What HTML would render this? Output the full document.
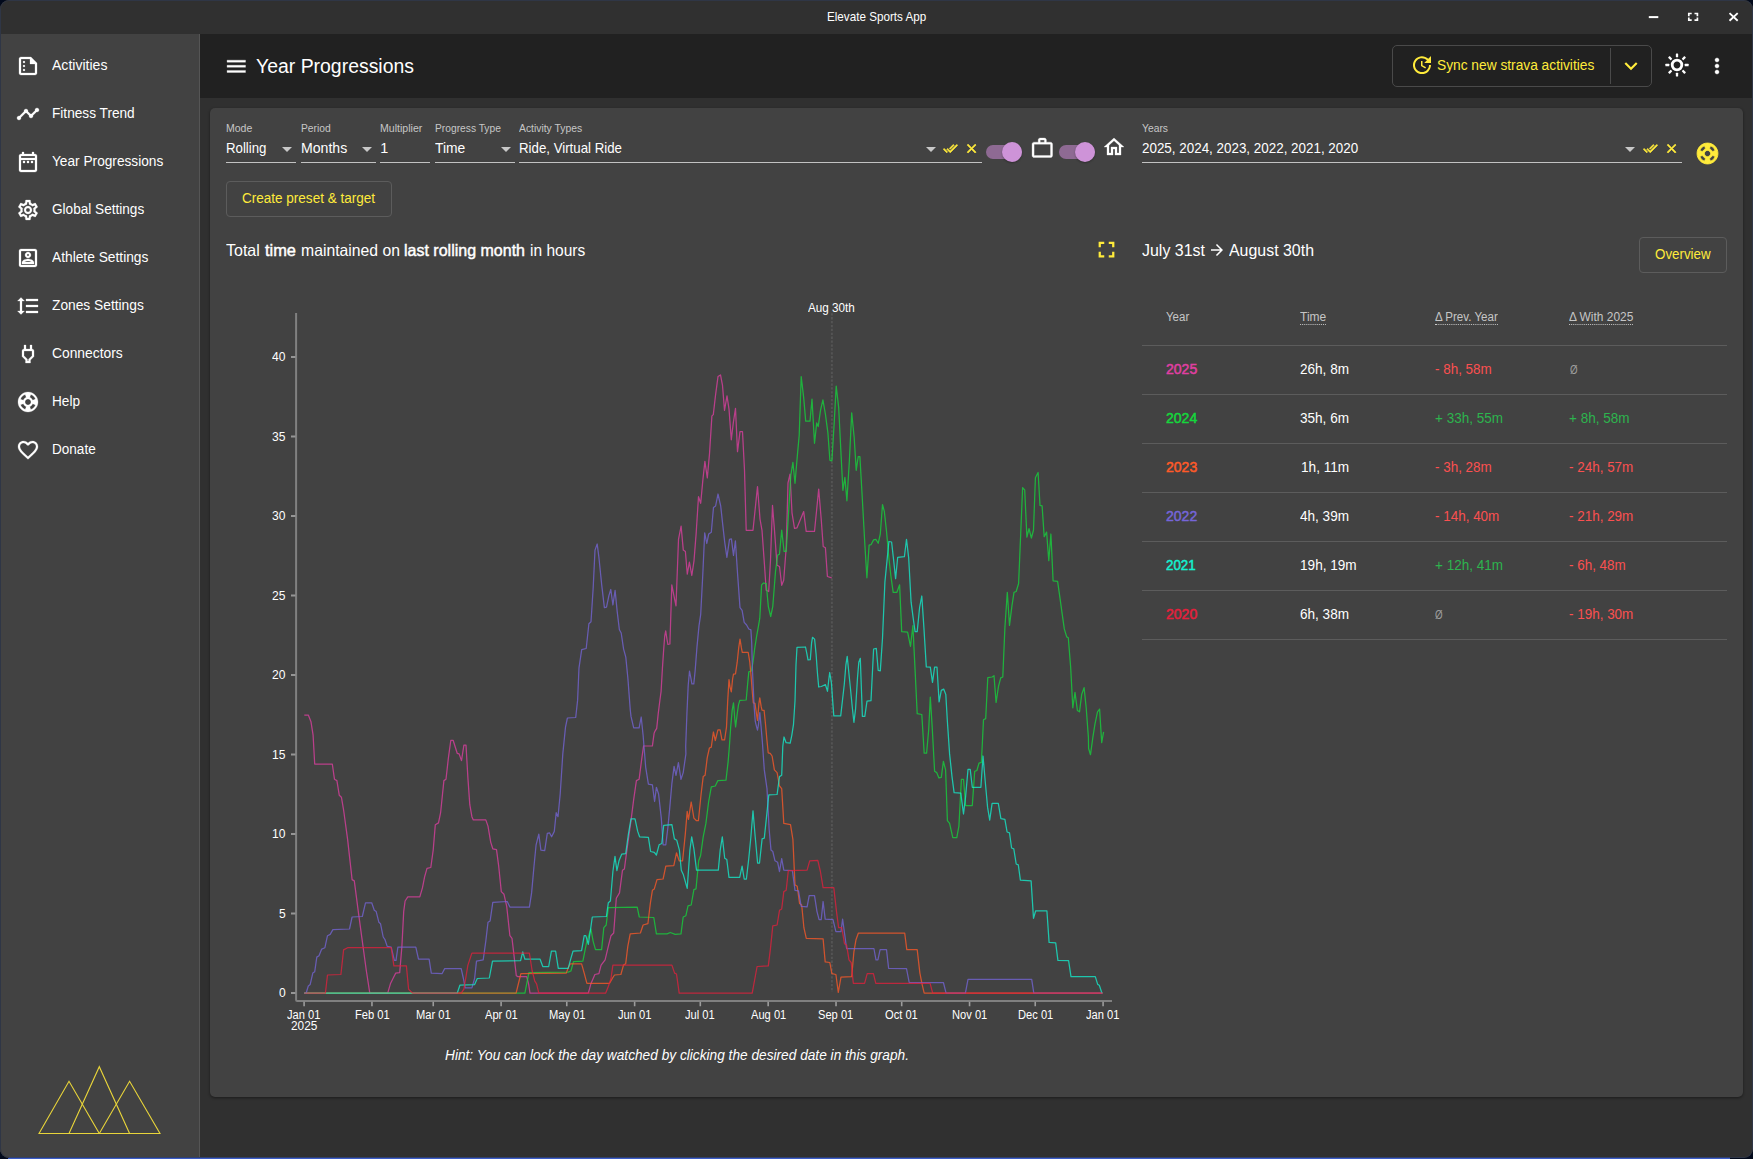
<!DOCTYPE html>
<html>
<head>
<meta charset="utf-8">
<title>Elevate Sports App</title>
<style>
*{box-sizing:border-box;margin:0;padding:0}
html,body{width:1753px;height:1159px;overflow:hidden;background:#020a1c;font-family:"Liberation Sans",sans-serif;color:#fff}
#win{position:absolute;left:0;top:0;width:1753px;height:1158px;background:#303030;border-radius:9px;overflow:hidden}
#winb{position:absolute;left:0;top:0;width:1753px;height:1158px;border:1px solid #2f3646;border-radius:9px}
.abs{position:absolute}
.t{position:absolute;white-space:nowrap;transform-origin:0 0}
.ico{position:absolute}
.ul{position:absolute;height:1px;background:#c2c2c2}
.hr{position:absolute;left:1142px;width:585px;height:1px;background:#5c5c5c}
.dot{border-bottom:1px dotted #c8c8c8}
</style>
</head>
<body>
<div id="win">
<div class="abs" style="left:0;top:0;width:1753px;height:34px;background:#303030"></div>
<div class="abs" style="left:0;top:34px;width:200px;height:1125px;background:#424242;border-right:1px solid #555"></div>
<div class="abs" style="left:200px;top:34px;width:1553px;height:64px;background:#212121"></div>
<div class="abs" style="left:210px;top:108px;width:1533px;height:989px;background:#424242;border-radius:5px;box-shadow:0 1px 3px rgba(0,0,0,.45)"></div>
<div class="t" style="left:826.80px;top:9.00px;font-size:12.8px;line-height:15px;color:#fff;transform:scaleX(0.9112);">Elevate Sports App</div>
<svg class="ico" style="left:1640px;top:5px" width="110" height="26" viewBox="1640 5 110 26">
 <rect x="1648.800" y="16.100" width="9.500" height="2" fill="#fff"/>
 <path d="M1688.800 16.300v-2.800h2.900 M1694.500 13.500h2.900v2.800 M1697.400 17.400v2.800h-2.900 M1691.700 20.200h-2.900v-2.800" stroke="#fff" stroke-width="1.7" fill="none"/>
 <path d="M1729.500 13.100l8.200 7.700 M1737.700 13.100l-8.200 7.700" stroke="#fff" stroke-width="1.9" fill="none"/>
</svg>
<svg class="ico" style="left:16.30px;top:54.00px" width="24" height="24" viewBox="0 0 24 24"><path fill="#fff" stroke="#fff" stroke-width="0.25" d="M15 3H5c-1.100 0-1.990.9-1.990 2L3 19c0 1.100.89 2 1.990 2H19c1.100 0 2-.9 2-2V9l-6-6zM5 19V5h9v5h5v9H5zM9 8c0 .55-.45 1-1 1s-1-.45-1-1 .45-1 1-1 1 .45 1 1zm0 4c0 .55-.45 1-1 1s-1-.45-1-1 .45-1 1-1 1 .45 1 1zm0 4c0 .55-.45 1-1 1s-1-.45-1-1 .45-1 1-1 1 .45 1 1z"/></svg>
<div class="t" style="left:52.10px;top:57.00px;font-size:14px;line-height:16px;color:#fff;transform:scaleX(1.0030);">Activities</div>
<svg class="ico" style="left:16.30px;top:102.00px" width="24" height="24" viewBox="0 0 24 24"><path fill="#fff" stroke="#fff" stroke-width="0.25" d="M23 8c0 1.100-.9 2-2 2-.18 0-.35-.02-.51-.07l-3.560 3.550c.05.16.07.34.07.52 0 1.100-.9 2-2 2s-2-.9-2-2c0-.18.02-.36.07-.52l-2.550-2.550c-.16.05-.34.07-.52.07s-.36-.02-.52-.07l-4.550 4.560c.05.16.07.33.07.51 0 1.100-.9 2-2 2s-2-.9-2-2 .9-2 2-2c.18 0 .35.02.51.07l4.560-4.550C8.020 9.360 8 9.180 8 9c0-1.100.9-2 2-2s2 .9 2 2c0 .18-.02.36-.07.52l2.550 2.550c.16-.05.34-.07.52-.07s.36.02.52.07l3.550-3.560C19.020 8.350 19 8.180 19 8c0-1.100.9-2 2-2s2 .9 2 2z"/></svg>
<div class="t" style="left:52.10px;top:105.00px;font-size:14px;line-height:16px;color:#fff;transform:scaleX(0.9751);">Fitness Trend</div>
<svg class="ico" style="left:16.30px;top:150.00px" width="24" height="24" viewBox="0 0 24 24"><path fill="#fff" stroke="#fff" stroke-width="0.25" d="M7 11h2v2H7v-2zm14-5v14c0 1.100-.9 2-2 2H5c-1.110 0-2-.9-2-2l.010-14c0-1.100.88-2 1.990-2h1V2h2v2h8V2h2v2h1c1.100 0 2 .9 2 2zM5 8h14V6H5v2zm14 12V10H5v10h14zm-4-7h2v-2h-2v2zm-4 0h2v-2h-2v2z"/></svg>
<div class="t" style="left:52.10px;top:153.00px;font-size:14px;line-height:16px;color:#fff;transform:scaleX(0.9773);">Year Progressions</div>
<svg class="ico" style="left:16.30px;top:198.00px" width="24" height="24" viewBox="0 0 24 24"><path fill="#fff" stroke="#fff" stroke-width="0.25" d="M19.430 12.980c.04-.32.07-.64.07-.98 0-.34-.03-.66-.07-.98l2.110-1.650c.19-.15.24-.42.12-.64l-2-3.460c-.09-.16-.26-.25-.44-.25-.06 0-.12.010-.17.030l-2.490 1c-.52-.4-1.080-.73-1.690-.98l-.38-2.650C14.460 2.180 14.250 2 14 2h-4c-.25 0-.46.18-.49.42l-.38 2.650c-.61.25-1.170.59-1.690.98l-2.490-1c-.06-.02-.12-.03-.18-.03-.17 0-.34.09-.43.25l-2 3.460c-.13.22-.07.49.12.64l2.110 1.650c-.04.32-.07.65-.07.98 0 .33.03.66.07.98l-2.110 1.650c-.19.15-.24.42-.12.64l2 3.460c.09.16.26.25.44.25.06 0 .12-.010.17-.030l2.490-1c.52.4 1.080.73 1.690.98l.38 2.650c.03.24.24.42.49.42h4c.25 0 .46-.18.49-.42l.38-2.650c.61-.25 1.170-.59 1.690-.98l2.490 1c.06.02.12.03.18.03.17 0 .34-.09.43-.25l2-3.460c.12-.22.07-.49-.12-.64l-2.110-1.650zm-1.980-1.710c.04.31.05.52.05.73 0 .21-.02.43-.05.73l-.14 1.130.89.7 1.080.84-.7 1.210-1.270-.51-1.040-.42-.9.68c-.43.32-.84.56-1.250.73l-1.060.43-.16 1.130-.2 1.350h-1.400l-.19-1.350-.16-1.130-1.060-.43c-.43-.18-.83-.41-1.230-.71l-.91-.7-1.060.43-1.270.51-.7-1.210 1.080-.84.89-.7-.14-1.130c-.03-.31-.05-.54-.05-.74s.02-.43.05-.73l.14-1.130-.89-.7-1.080-.84.7-1.210 1.270.51 1.040.42.9-.68c.43-.32.84-.56 1.250-.73l1.060-.43.16-1.130.2-1.350h1.390l.19 1.350.16 1.130 1.060.43c.43.18.83.41 1.230.71l.91.7 1.060-.43 1.270-.51.7 1.210-1.070.85-.89.7.14 1.130zM12 8c-2.210 0-4 1.790-4 4s1.790 4 4 4 4-1.790 4-4-1.790-4-4-4zm0 6c-1.100 0-2-.9-2-2s.9-2 2-2 2 .9 2 2-.9 2-2 2z"/></svg>
<div class="t" style="left:52.10px;top:201.00px;font-size:14px;line-height:16px;color:#fff;transform:scaleX(0.9711);">Global Settings</div>
<svg class="ico" style="left:16.30px;top:246.00px" width="24" height="24" viewBox="0 0 24 24"><path fill="#fff" stroke="#fff" stroke-width="0.25" d="M19 5v14H5V5h14m0-2H5c-1.110 0-2 .9-2 2v14c0 1.100.89 2 2 2h14c1.100 0 2-.9 2-2V5c0-1.100-.9-2-2-2zm-7 9c-1.650 0-3-1.350-3-3s1.350-3 3-3 3 1.350 3 3-1.350 3-3 3zm0-4c-.55 0-1 .45-1 1s.45 1 1 1 1-.45 1-1-.45-1-1-1zm6 10H6v-1.530c0-2.500 3.970-3.580 6-3.580s6 1.080 6 3.580V18zm-9.690-2h7.380c-.69-.56-2.380-1.120-3.690-1.120s-3.010.56-3.690 1.120z"/></svg>
<div class="t" style="left:52.10px;top:249.00px;font-size:14px;line-height:16px;color:#fff;transform:scaleX(0.9831);">Athlete Settings</div>
<svg class="ico" style="left:16.30px;top:294.00px" width="24" height="24" viewBox="0 0 24 24"><path fill="#fff" stroke="#fff" stroke-width="0.25" d="M6 7h2.500L5 3.500 1.500 7H4v10H1.500L5 20.500 8.500 17H6V7zm4-2v2h12V5H10zm0 14h12v-2H10v2zm0-6h12v-2H10v2z"/></svg>
<div class="t" style="left:52.10px;top:297.00px;font-size:14px;line-height:16px;color:#fff;transform:scaleX(0.9830);">Zones Settings</div>
<svg class="ico" style="left:16.30px;top:342.00px" width="24" height="24" viewBox="0 0 24 24"><path fill="#fff" stroke="#fff" stroke-width="0.25" d="M16 9v4.660l-3.500 3.510V19h-1v-1.830L8 13.650V9h8m0-6h-2v4h-4V3H8v4h-.010C6.900 6.990 6 7.890 6 8.980v5.520L9.500 18v3h5v-3l3.500-3.510V9c0-1.100-.9-2-2-2V3z"/></svg>
<div class="t" style="left:52.10px;top:345.00px;font-size:14px;line-height:16px;color:#fff;transform:scaleX(0.9875);">Connectors</div>
<svg class="ico" style="left:16.30px;top:390.00px" width="24" height="24" viewBox="0 0 24 24"><path fill="#fff" stroke="#fff" stroke-width="0.25" d="M12 2C6.480 2 2 6.480 2 12s4.480 10 10 10 10-4.480 10-10S17.520 2 12 2zm7.460 7.120l-2.780 1.150c-.510-1.360-1.580-2.440-2.950-2.940l1.150-2.780c2.100.8 3.770 2.470 4.580 4.570zM12 15c-1.660 0-3-1.340-3-3s1.340-3 3-3 3 1.340 3 3-1.340 3-3 3zM9.130 4.540l1.170 2.780c-1.380.5-2.470 1.590-2.980 2.970L4.540 9.130c.81-2.110 2.480-3.780 4.590-4.590zM4.540 14.870l2.780-1.150c.51 1.380 1.590 2.460 2.970 2.960l-1.170 2.780c-2.100-.81-3.770-2.480-4.580-4.590zm10.340 4.590l-1.150-2.780c1.370-.51 2.450-1.590 2.950-2.970l2.780 1.170c-.81 2.100-2.480 3.770-4.580 4.580z"/></svg>
<div class="t" style="left:52.10px;top:393.00px;font-size:14px;line-height:16px;color:#fff;transform:scaleX(0.9725);">Help</div>
<svg class="ico" style="left:16.30px;top:438.00px" width="24" height="24" viewBox="0 0 24 24"><path fill="#fff" stroke="#fff" stroke-width="0.25" d="M16.500 3c-1.740 0-3.410.81-4.500 2.090C10.910 3.810 9.240 3 7.500 3 4.420 3 2 5.420 2 8.500c0 3.780 3.400 6.860 8.550 11.540L12 21.350l1.450-1.320C18.600 15.360 22 12.280 22 8.500 22 5.420 19.580 3 16.500 3zm-4.400 15.550l-.1.1-.1-.1C7.140 14.240 4 11.390 4 8.500 4 6.500 5.500 5 7.500 5c1.540 0 3.040.99 3.570 2.360h1.870C13.460 5.990 14.960 5 16.500 5c2 0 3.500 1.500 3.500 3.500 0 2.890-3.140 5.740-7.900 10.050z"/></svg>
<div class="t" style="left:52.10px;top:441.00px;font-size:14px;line-height:16px;color:#fff;transform:scaleX(0.9680);">Donate</div>
<svg class="ico" style="left:224.15px;top:53.50px" width="24.6" height="24.6" viewBox="0 0 24 24"><path fill="#fff" stroke="#fff" stroke-width="0.3" d="M3 18h18v-2H3v2zm0-5h18v-2H3v2zm0-7v2h18V6H3z"/></svg>
<div class="t" style="left:256.20px;top:55.00px;font-size:19.5px;line-height:22px;color:#fff;transform:scaleX(0.9961);">Year Progressions</div>
<div class="abs" style="left:1392px;top:45px;width:260px;height:42px;border:1px solid #4a4a4a;border-radius:5px"></div>
<div class="abs" style="left:1610px;top:48px;width:1px;height:36px;background:#4a4a4a"></div>
<svg class="ico" style="left:1409.60px;top:53.40px" width="24" height="24" viewBox="0 0 24 24"><path fill="#ffeb3b"  d="M21 10.120h-6.780l2.740-2.820c-2.730-2.700-7.150-2.800-9.880-.1-2.730 2.710-2.730 7.080 0 9.790s7.150 2.710 9.880 0C18.320 15.650 19 14.080 19 12.100h2c0 1.980-.88 4.550-2.640 6.290-3.510 3.480-9.210 3.480-12.720 0-3.500-3.470-3.530-9.110-.02-12.580s9.140-3.470 12.650 0L21 3v7.120zM12.500 8v4.250l3.500 2.080-.72 1.210L11 13V8h1.500z"/></svg>
<div class="t" style="left:1436.70px;top:57.00px;font-size:14px;line-height:16px;color:#ffeb3b;transform:scaleX(0.9814);">Sync new strava activities</div>
<svg class="ico" style="left:1618.20px;top:52.88px" width="26" height="26" viewBox="0 0 24 24"><path fill="#ffeb3b"  d="M16.590 8.590L12 13.170 7.410 8.590 6 10l6 6 6-6z"/></svg>
<svg class="ico" style="left:1664.1px;top:52.4px" width="26" height="26" viewBox="-13 -13 26 26"><circle r="4.8" fill="none" stroke="#fff" stroke-width="2.8"/><rect x="7.7" y="-1.15" width="3.9" height="2.3" rx="0.5" fill="#fff" transform="rotate(0)"/><rect x="7.7" y="-1.15" width="3.9" height="2.3" rx="0.5" fill="#fff" transform="rotate(45)"/><rect x="7.7" y="-1.15" width="3.9" height="2.3" rx="0.5" fill="#fff" transform="rotate(90)"/><rect x="7.7" y="-1.15" width="3.9" height="2.3" rx="0.5" fill="#fff" transform="rotate(135)"/><rect x="7.7" y="-1.15" width="3.9" height="2.3" rx="0.5" fill="#fff" transform="rotate(180)"/><rect x="7.7" y="-1.15" width="3.9" height="2.3" rx="0.5" fill="#fff" transform="rotate(225)"/><rect x="7.7" y="-1.15" width="3.9" height="2.3" rx="0.5" fill="#fff" transform="rotate(270)"/><rect x="7.7" y="-1.15" width="3.9" height="2.3" rx="0.5" fill="#fff" transform="rotate(315)"/></svg>
<svg class="ico" style="left:1705.30px;top:53.95px" width="24" height="24" viewBox="0 0 24 24"><path fill="#fff" stroke="#fff" stroke-width="0.35" d="M12 8c1.100 0 2-.9 2-2s-.9-2-2-2-2 .9-2 2 .9 2 2 2zm0 2c-1.100 0-2 .9-2 2s.9 2 2 2 2-.9 2-2-.9-2-2-2zm0 6c-1.100 0-2 .9-2 2s.9 2 2 2 2-.9 2-2-.9-2-2-2z"/></svg>
<div class="t" style="left:226.30px;top:122.00px;font-size:10.8px;line-height:12px;color:#c6c6c6;transform:scaleX(0.9735);">Mode</div>
<div class="t" style="left:226.30px;top:140.00px;font-size:14.4px;line-height:16px;color:#fff;transform:scaleX(0.9200);">Rolling</div>
<div class="ul" style="left:226.3px;top:162px;width:69.30000000000001px"></div>
<svg class="ico" style="left:282.2px;top:146.500px" width="10" height="5" viewBox="0 0 10 5"><path d="M0 0h10L5 5z" fill="#c8c8c8"/></svg>
<div class="t" style="left:300.70px;top:122.00px;font-size:10.8px;line-height:12px;color:#c6c6c6;transform:scaleX(0.9513);">Period</div>
<div class="t" style="left:300.70px;top:140.00px;font-size:14.4px;line-height:16px;color:#fff;transform:scaleX(0.9805);">Months</div>
<div class="ul" style="left:300.7px;top:162px;width:75.30000000000001px"></div>
<svg class="ico" style="left:361.6px;top:146.500px" width="10" height="5" viewBox="0 0 10 5"><path d="M0 0h10L5 5z" fill="#c8c8c8"/></svg>
<div class="t" style="left:380.30px;top:122.00px;font-size:10.8px;line-height:12px;color:#c6c6c6;transform:scaleX(0.9789);">Multiplier</div>
<div class="t" style="left:380.30px;top:140.00px;font-size:14.4px;line-height:16px;color:#fff;">1</div>
<div class="ul" style="left:380.3px;top:162px;width:49.599999999999966px"></div>
<div class="t" style="left:434.80px;top:122.00px;font-size:10.8px;line-height:12px;color:#c6c6c6;transform:scaleX(0.9491);">Progress Type</div>
<div class="t" style="left:434.80px;top:140.00px;font-size:14.4px;line-height:16px;color:#fff;transform:scaleX(0.9630);">Time</div>
<div class="ul" style="left:434.8px;top:162px;width:79.80000000000001px"></div>
<svg class="ico" style="left:500.8px;top:146.500px" width="10" height="5" viewBox="0 0 10 5"><path d="M0 0h10L5 5z" fill="#c8c8c8"/></svg>
<div class="t" style="left:518.90px;top:122.00px;font-size:10.8px;line-height:12px;color:#c6c6c6;transform:scaleX(0.9586);">Activity Types</div>
<div class="t" style="left:518.90px;top:140.00px;font-size:14.4px;line-height:16px;color:#fff;transform:scaleX(0.9214);">Ride, Virtual Ride</div>
<div class="ul" style="left:518.9px;top:162px;width:463.4px"></div>
<svg class="ico" style="left:925.8px;top:146.500px" width="10" height="5" viewBox="0 0 10 5"><path d="M0 0h10L5 5z" fill="#c8c8c8"/></svg>
<svg class="ico" style="left:942.65px;top:141.36px" width="14.9" height="14.9" viewBox="0 0 24 24"><path fill="#ffeb3b" stroke="#ffeb3b" stroke-width="1.1" d="M18 7l-1.410-1.410-6.340 6.340 1.410 1.410L18 7zm4.240-1.410L11.660 16.170 7.480 12l-1.410 1.410L11.660 19l12-12-1.420-1.410zM.41 13.410L6 19l1.410-1.410L1.830 12 .41 13.410z"/></svg>
<svg class="ico" style="left:963.70px;top:141.30px" width="15.2" height="15.2" viewBox="0 0 24 24"><path fill="#ffeb3b" stroke="#ffeb3b" stroke-width="1.1" d="M19 6.410L17.590 5 12 10.590 6.410 5 5 6.410 10.590 12 5 17.590 6.410 19 12 13.410 17.590 19 19 17.590 13.410 12z"/></svg>
<div class="abs" style="left:986px;top:145px;width:36px;height:14px;border-radius:7px;background:#8e6a93"></div>
<div class="abs" style="left:1001.5px;top:141.500px;width:20.5px;height:20.5px;border-radius:50%;background:#ce93d8;box-shadow:0 1px 2px rgba(0,0,0,.3)"></div>
<svg class="ico" style="left:1030.00px;top:135.71px" width="24.6" height="24.6" viewBox="0 0 24 24"><path fill="#fff" stroke="#fff" stroke-width="0.3" d="M14 6V4h-4v2h4zM4 8v11h16V8H4zm16-2c1.110 0 2 .89 2 2v11c0 1.110-.89 2-2 2H4c-1.110 0-2-.89-2-2l.010-11c0-1.110.88-2 1.990-2h4V4c0-1.110.89-2 2-2h4c1.110 0 2 .89 2 2v2h4z"/></svg>
<div class="abs" style="left:1059px;top:145px;width:36px;height:14px;border-radius:7px;background:#8e6a93"></div>
<div class="abs" style="left:1074.5px;top:141.500px;width:20.5px;height:20.5px;border-radius:50%;background:#ce93d8;box-shadow:0 1px 2px rgba(0,0,0,.3)"></div>
<svg class="ico" style="left:1102.30px;top:135.20px" width="24" height="24" viewBox="0 0 24 24"><path fill="#fff" stroke="#fff" stroke-width="0.3" d="M12 5.690l5 4.500V18h-2v-6H9v6H7v-7.810l5-4.500M12 3L2 12h3v8h6v-6h2v6h6v-8h3L12 3z"/></svg>
<div class="t" style="left:1141.90px;top:122.00px;font-size:10.8px;line-height:12px;color:#c6c6c6;transform:scaleX(0.9551);">Years</div>
<div class="t" style="left:1141.90px;top:140.00px;font-size:14.4px;line-height:16px;color:#fff;transform:scaleX(0.9315);">2025, 2024, 2023, 2022, 2021, 2020</div>
<div class="ul" style="left:1141.9px;top:162px;width:539.8999999999999px"></div>
<svg class="ico" style="left:1625px;top:146.500px" width="10" height="5" viewBox="0 0 10 5"><path d="M0 0h10L5 5z" fill="#c8c8c8"/></svg>
<svg class="ico" style="left:1642.65px;top:141.36px" width="14.9" height="14.9" viewBox="0 0 24 24"><path fill="#ffeb3b" stroke="#ffeb3b" stroke-width="1.1" d="M18 7l-1.410-1.410-6.340 6.340 1.410 1.410L18 7zm4.240-1.410L11.660 16.170 7.480 12l-1.410 1.410L11.660 19l12-12-1.420-1.410zM.41 13.410L6 19l1.410-1.410L1.830 12 .41 13.410z"/></svg>
<svg class="ico" style="left:1663.70px;top:141.30px" width="15.2" height="15.2" viewBox="0 0 24 24"><path fill="#ffeb3b" stroke="#ffeb3b" stroke-width="1.1" d="M19 6.410L17.590 5 12 10.590 6.410 5 5 6.410 10.590 12 5 17.590 6.410 19 12 13.410 17.590 19 19 17.590 13.410 12z"/></svg>
<svg class="ico" style="left:1695.00px;top:140.60px" width="25" height="25" viewBox="0 0 24 24"><path fill="#ffeb3b" stroke="#ffeb3b" stroke-width="0.9" d="M12 2C6.480 2 2 6.480 2 12s4.480 10 10 10 10-4.480 10-10S17.520 2 12 2zm7.460 7.120l-2.780 1.150c-.510-1.360-1.580-2.440-2.950-2.940l1.150-2.780c2.100.8 3.770 2.470 4.580 4.570zM12 15c-1.660 0-3-1.340-3-3s1.340-3 3-3 3 1.340 3 3-1.340 3-3 3zM9.130 4.540l1.170 2.780c-1.380.5-2.470 1.590-2.980 2.970L4.540 9.130c.81-2.110 2.480-3.780 4.590-4.590zM4.540 14.870l2.780-1.150c.51 1.380 1.590 2.460 2.970 2.960l-1.170 2.780c-2.100-.81-3.770-2.480-4.580-4.590zm10.340 4.590l-1.150-2.780c1.370-.51 2.450-1.590 2.950-2.970l2.780 1.170c-.81 2.100-2.480 3.770-4.580 4.580z"/></svg>
<div class="abs" style="left:226px;top:181px;width:166px;height:36px;border:1px solid #5c5c5c;border-radius:4px"></div>
<div class="t" style="left:242.20px;top:190.00px;font-size:14px;line-height:16px;color:#ffeb3b;transform:scaleX(0.9656);">Create preset &amp; target</div>
<div class="t" style="left:225.80px;top:241.00px;font-size:16.5px;line-height:18px;color:#fff;transform:scaleX(0.9698);">Total</div>
<div class="t" style="left:264.90px;top:241.00px;font-size:16.5px;line-height:18px;color:#fff;transform:scaleX(0.9945);-webkit-text-stroke:0.45px #fff;">time</div>
<div class="t" style="left:300.60px;top:241.00px;font-size:16.5px;line-height:18px;color:#fff;transform:scaleX(0.9551);">maintained on</div>
<div class="t" style="left:404.30px;top:241.00px;font-size:16.5px;line-height:18px;color:#fff;transform:scaleX(0.9701);-webkit-text-stroke:0.45px #fff;">last rolling month</div>
<div class="t" style="left:530.40px;top:241.00px;font-size:16.5px;line-height:18px;color:#fff;transform:scaleX(0.9404);">in hours</div>
<svg class="ico" style="left:1093.10px;top:235.50px" width="27" height="27" viewBox="0 0 24 24"><path fill="#ffeb3b"  d="M7 14H5v5h5v-2H7v-3zm-2-4h2V7h3V5H5v5zm12 7h-3v2h5v-5h-2v3zM14 5v2h3v3h2V5h-5z"/></svg>
<div class="t" style="left:1141.90px;top:241.00px;font-size:16.5px;line-height:18px;color:#fff;transform:scaleX(0.9675);">July 31st</div>
<svg class="ico" style="left:1208.40px;top:241.40px" width="18" height="18" viewBox="0 0 24 24"><path fill="#fff"  d="M12 4l-1.410 1.410L16.170 11H4v2h12.170l-5.580 5.590L12 20l8-8z"/></svg>
<div class="t" style="left:1228.90px;top:241.00px;font-size:16.5px;line-height:18px;color:#fff;transform:scaleX(0.9652);">August 30th</div>
<div class="abs" style="left:1639px;top:237px;width:88px;height:36px;border:1px solid #5c5c5c;border-radius:4px"></div>
<div class="t" style="left:1655.20px;top:246.00px;font-size:14px;line-height:16px;color:#ffeb3b;transform:scaleX(0.9530);">Overview</div>
<div class="t" style="left:1165.50px;top:310.00px;font-size:12.5px;line-height:14px;color:#c6c6c6;transform:scaleX(0.9186);">Year</div>
<div class="t" style="left:1300.30px;top:310.00px;font-size:12.5px;line-height:14px;color:#c6c6c6;transform:scaleX(0.9592);"><span class="dot">Time</span></div>
<div class="t" style="left:1434.50px;top:310.00px;font-size:12.5px;line-height:14px;color:#c6c6c6;transform:scaleX(0.9251);"><span class="dot">&#916; Prev. Year</span></div>
<div class="t" style="left:1568.90px;top:310.00px;font-size:12.5px;line-height:14px;color:#c6c6c6;transform:scaleX(0.9538);"><span class="dot">&#916; With 2025</span></div>
<div class="hr" style="top:345px"></div>
<div class="hr" style="top:394px"></div>
<div class="hr" style="top:443px"></div>
<div class="hr" style="top:492px"></div>
<div class="hr" style="top:541px"></div>
<div class="hr" style="top:590px"></div>
<div class="hr" style="top:639px"></div>
<div class="t" style="left:1165.50px;top:361.00px;font-size:14.5px;line-height:16px;color:#e03fa2;transform:scaleX(0.9672);-webkit-text-stroke:0.5px #e03fa2;">2025</div>
<div class="t" style="left:1300.30px;top:361.00px;font-size:14.5px;line-height:16px;color:#fff;transform:scaleX(0.9352);">26h, 8m</div>
<div class="t" style="left:1434.50px;top:361.00px;font-size:14.5px;line-height:16px;color:#fb5050;transform:scaleX(0.9257);">- 8h, 58m</div>
<div class="t" style="left:1569.50px;top:362.00px;font-size:13px;line-height:15px;color:#9e9e9e;transform:scaleX(0.7516);">Ø</div>
<div class="t" style="left:1165.50px;top:410.00px;font-size:14.5px;line-height:16px;color:#15d63c;transform:scaleX(0.9672);-webkit-text-stroke:0.5px #15d63c;">2024</div>
<div class="t" style="left:1300.30px;top:410.00px;font-size:14.5px;line-height:16px;color:#fff;transform:scaleX(0.9352);">35h, 6m</div>
<div class="t" style="left:1434.50px;top:410.00px;font-size:14.5px;line-height:16px;color:#2db44e;transform:scaleX(0.9307);">+ 33h, 55m</div>
<div class="t" style="left:1568.90px;top:410.00px;font-size:14.5px;line-height:16px;color:#2db44e;transform:scaleX(0.9324);">+ 8h, 58m</div>
<div class="t" style="left:1165.50px;top:459.00px;font-size:14.5px;line-height:16px;color:#ff5a28;transform:scaleX(0.9672);-webkit-text-stroke:0.5px #ff5a28;">2023</div>
<div class="t" style="left:1301.30px;top:459.00px;font-size:14.5px;line-height:16px;color:#fff;transform:scaleX(0.9393);">1h, 11m</div>
<div class="t" style="left:1434.50px;top:459.00px;font-size:14.5px;line-height:16px;color:#fb5050;transform:scaleX(0.9257);">- 3h, 28m</div>
<div class="t" style="left:1568.90px;top:459.00px;font-size:14.5px;line-height:16px;color:#fb5050;transform:scaleX(0.9277);">- 24h, 57m</div>
<div class="t" style="left:1165.50px;top:508.00px;font-size:14.5px;line-height:16px;color:#7565d8;transform:scaleX(0.9672);-webkit-text-stroke:0.5px #7565d8;">2022</div>
<div class="t" style="left:1300.30px;top:508.00px;font-size:14.5px;line-height:16px;color:#fff;transform:scaleX(0.9352);">4h, 39m</div>
<div class="t" style="left:1434.50px;top:508.00px;font-size:14.5px;line-height:16px;color:#fb5050;transform:scaleX(0.9277);">- 14h, 40m</div>
<div class="t" style="left:1568.90px;top:508.00px;font-size:14.5px;line-height:16px;color:#fb5050;transform:scaleX(0.9277);">- 21h, 29m</div>
<div class="t" style="left:1165.50px;top:557.00px;font-size:14.5px;line-height:16px;color:#14f0d0;transform:scaleX(0.9176);-webkit-text-stroke:0.5px #14f0d0;">2021</div>
<div class="t" style="left:1300.30px;top:557.00px;font-size:14.5px;line-height:16px;color:#fff;transform:scaleX(0.9379);">19h, 19m</div>
<div class="t" style="left:1434.50px;top:557.00px;font-size:14.5px;line-height:16px;color:#2db44e;transform:scaleX(0.9307);">+ 12h, 41m</div>
<div class="t" style="left:1568.90px;top:557.00px;font-size:14.5px;line-height:16px;color:#fb5050;transform:scaleX(0.9257);">- 6h, 48m</div>
<div class="t" style="left:1165.50px;top:606.00px;font-size:14.5px;line-height:16px;color:#e5203c;transform:scaleX(0.9672);-webkit-text-stroke:0.5px #e5203c;">2020</div>
<div class="t" style="left:1300.30px;top:606.00px;font-size:14.5px;line-height:16px;color:#fff;transform:scaleX(0.9352);">6h, 38m</div>
<div class="t" style="left:1435.10px;top:607.00px;font-size:13px;line-height:15px;color:#9e9e9e;transform:scaleX(0.7516);">Ø</div>
<div class="t" style="left:1568.90px;top:606.00px;font-size:14.5px;line-height:16px;color:#fb5050;transform:scaleX(0.9277);">- 19h, 30m</div>
<svg class="ico" style="left:220px;top:290px" width="910" height="790" viewBox="220 290 910 790">
<path d="M296.100 313V1000q0 1 1 1H1112" fill="none" stroke="#808080" stroke-width="2"/>
<path d="M291 993.00H295.500M291 913.50H295.500M291 834.00H295.500M291 754.50H295.500M291 675.00H295.500M291 595.50H295.500M291 516.00H295.500M291 436.50H295.500M291 357.00H295.500" stroke="#969696" stroke-width="1.8" fill="none"/>
<path d="M304.10 1001.800V1006.200M371.96 1001.800V1006.200M433.25 1001.800V1006.200M501.11 1001.800V1006.200M566.78 1001.800V1006.200M634.64 1001.800V1006.200M700.31 1001.800V1006.200M768.17 1001.800V1006.200M836.03 1001.800V1006.200M901.70 1001.800V1006.200M969.56 1001.800V1006.200M1035.23 1001.800V1006.200M1103.09 1001.800V1006.200" stroke="#9c9c9c" stroke-width="1.6" fill="none"/>
<path d="M831.900 313.200V992" stroke="#545454" stroke-width="2" stroke-dasharray="2.3 1.600" fill="none"/>
<path d="M304.2 714.7 308.2 714.7 310.9 721.4 313 734.8 314.6 763.6 332.2 763.6 334.4 778.9 336.8 780.2 339.2 794.9 341.3 796.8 343.5 809.6 347.5 839 352 879.2 354.2 880.5 358.2 911.2 362.2 940.7 366.2 970.1 369.7 992.8 387.6 992.8 390.3 983.4 392.9 978.1 395.6 972.7 399.6 972.2 401.8 946 403.6 911.2 405 900.6 407.7 896.5 419.7 896.5 422.4 887.2 424.5 876.5 426.9 867.9 430.7 867.1 433.1 849.7 435.2 824.3 438.4 822.5 440.5 812.3 443.8 780.2 445.9 778.9 448.3 757.5 450.7 740.1 453.1 740.1 457.1 752.9 459 753.5 461.4 760.2 463.8 744.7 465.9 744.7 467.8 777.5 469.7 804.3 471.8 816.3 473.2 819.5 485.7 819.5 487.9 825.7 490.6 841.7 492.7 848.4 496.4 849.2 498.6 865.8 501.2 891.2 503.9 893.9 506.6 905.9 509.8 935.3 511.9 938 514.1 956.7 516.2 975.4 517.8 976.2 526.6 976.2 528.5 983.4 529.9 992.8 588.2 992.8 590.8 983.4 594.8 974.1 598.8 973.3 601 964.7 605 959.4 608.2 946 610.9 935.3 613.6 932.6 616.2 897.9 619.4 892.5 622.4 869.8 624.3 868.5 627.5 844.4 630.9 820.3 633.6 798.9 636.3 780.2 639 778.9 641.6 758.8 643.5 745.5 643.6 745.6 652.3 745.4 654 732.9 655.1 730.4 656.6 728 658.1 713.5 659.7 700.6 661 690.9 662.3 668.2 663.6 648.8 664.6 635.9 665.6 630.4 666.9 639.1 667.8 643.9 669.8 643.6 671.7 584.5 673.8 595.2 675.9 605.4 678.4 539 681 525.7 683.2 549.7 685.3 551.1 687.2 573.8 689.3 561.8 691.7 575.1 693.9 560.4 696 533.7 698.4 496.3 700.6 502.9 702.7 480.2 704.8 461 707.2 477.5 709.4 453.5 711.8 415.5 713.2 414.2 715.4 395 717.9 376.2 720.4 374.5 722.4 385 724.4 410 726.9 395.5 728.9 408.7 731.2 439.4 733.2 422.5 735.4 408 737.4 451.2 739.9 431.2 742.4 431.2 744.4 469.9 746.1 529.9 752.9 529.9 757.4 486.2 759.9 518.6 761.9 529.9 764.4 564.9 766.1 589.9 768.6 591.1 770.4 559.9 772.4 504.9 774.4 529.9 776.9 564.9 779.4 566.1 781.6 584.9 783.6 579.9 786.1 547.4 787.9 482.4 789.9 473.7 791.9 512.4 794.4 527.9 796.9 527.4 803.6 511.2 806.1 531.1 814.4 531.1 818.6 488.7 821.1 518.6 823.1 546.1 825.3 547.4 827.3 576.1 831.6 577.4" fill="none" stroke="#e03fa2" stroke-width="1.25" stroke-opacity="0.76" stroke-linejoin="round" transform="translate(0.1,0.4)"/>
<path d="M304.2 992.8 524.8 992.8 526.6 983.4 528.8 972.2 568.1 971.7 570.8 970.6 573.4 961.3 582.8 960.7 584.9 950 586.8 940.7 590.8 928.6 593 940.7 595.4 949.2 601.5 949.2 603.7 927.3 606.1 924.6 608.2 907.2 637.1 906.7 639.2 916.6 653.7 917.1 656.3 933.4 667 933.4 670.2 932.1 675.1 934 680.9 933.4 683.1 916.6 685.8 915.3 687.9 905.4 691.1 904.6 693.8 889.3 695.9 888.5 698.6 860.4 700.5 855.1 703.1 836.4 705.8 823 708.5 801.6 711.2 786.4 715.2 785.6 717.8 780.2 725.9 779.7 728 761.5 729.3 745.9 730.6 726.5 732.1 709.7 733.4 702.5 734.7 718.7 735.5 726.5 737.1 713.5 738.4 704.5 739.7 699.9 746.1 699.6 747.4 685.1 748.7 671.5 751.3 670.6 752.9 661.8 754.5 648.8 756.5 635.9 758.4 625.5 759.7 617.8 761.5 584.5 763.4 582.6 766.1 583.2 768.2 605.9 770.6 616.1 772.7 605.9 775.4 571.1 777.6 554.6 779.4 553.8 781.6 529.7 784 551.1 786.1 551.1 788.3 515 790.7 474.9 792.8 462 794.9 482.9 797.4 453.5 799.1 434.9 801.1 376.2 803.6 397.5 805.6 420.7 809.9 420.7 811.9 398.7 814.4 442.9 816.6 422.5 818.1 426.2 820.4 410 822.8 399.5 825.3 413.7 827.8 432.4 829.8 459.9 831.8 460.4 834.1 422.5 836.1 385.7 838.6 407.5 840.6 447.4 842.8 489.9 844.8 476.9 846.8 500.4 849.3 459.9 851.6 412.5 854.1 437.4 856.1 469.9 858.1 456.2 859.8 456.2 862.3 499.9 864.8 544.9 866.8 577.4 869 544.8 870.9 544.3 873.5 539.5 875.7 538.9 878.1 542.9 880.2 533.6 882.4 504.2 884.2 510.9 886.4 530.9 888.8 557.7 890.9 576.4 893.1 591.9 896.8 591.9 899.5 584.4 901.6 631.2 907.5 631.7 910.4 645.9 912.8 625.3 915 670 917.1 713.3 921.7 714.1 924.1 752.7 926.5 752.7 928.6 729.4 930.2 696.7 932.1 726.7 934.5 770.9 936.6 772.2 938.8 777.5 941.2 777 943.3 761 945.5 769.5 947.3 820.3 949.5 823 952.7 837.2 956.7 837.2 958.8 825.7 961.3 778.9 963.4 778.9 965.5 805.1 972.2 805.1 974.6 770.9 976.8 770.1 978.9 762.8 981.3 762 983.4 719.3 985.6 718.2 987.7 677.2 992 676.6 993.9 675.3 996 702.1 998.4 686 1000.6 677.5 1002.7 676.6 1004.8 627.2 1007.2 591.9 1009.4 625 1011.8 605.8 1013.9 591.9 1016.1 591.1 1018.5 583.1 1020.6 533.6 1022.5 487.3 1024.6 489.5 1026.8 536.8 1028.9 528.2 1031.3 537.6 1033.4 529.6 1035.3 477.4 1038 472.1 1039.9 505 1042 505.5 1044.1 536.3 1046.5 531.7 1048.7 560.3 1050.8 533.6 1053 580.4 1057.5 580.9 1059.9 597.8 1062.1 613.8 1064.2 628.5 1066.6 636.5 1068.2 637.3 1070.6 667.3 1072.7 707.4 1074.9 691.9 1077.3 710.1 1079.4 711.4 1081.6 694 1084 687.3 1086.1 707.4 1088.3 736.8 1088.5 748.1 1090.4 754.3 1092.8 736.8 1094.9 723.4 1097.4 711.4 1099.5 708.7 1101.6 742.2 1103.5 731.5" fill="none" stroke="#15d63c" stroke-width="1.25" stroke-opacity="0.76" stroke-linejoin="round" transform="translate(0.1,0.4)"/>
<path d="M304.2 992.8 516 992.8 518.6 982.1 520.8 973.3 566.2 972.7 568.1 967.4 570.2 963.4 581.5 963.4 584.1 972.7 586.8 982.9 609.5 982.9 612.2 978.1 614.4 974.6 620.8 974.1 623.4 964.7 625.6 963.4 627.7 946 630.1 933.4 640.3 932.6 643 924.6 647.8 923.3 650.2 903.2 652.3 889.9 654.2 888.5 656.9 879.2 663 878.6 665.7 865.8 673.7 865.3 676.4 852.4 679.1 860.4 682.5 860.4 685.2 833.7 687.1 811 688.4 819 691.1 801.6 693.8 817.7 696.4 820.3 698.3 820.3 701 793.6 703.1 776.2 705 774.9 707.1 757.5 709.3 747.6 711.2 746.8 713.3 731.6 715.2 740.1 717.8 729.4 720 729.4 721.9 739.6 724.5 739.6 726.4 726.7 727.6 700.6 728.9 679.2 729.9 686.4 731.2 691.5 732.5 678.6 733.4 673.7 735.4 673.4 737.1 661.8 738.6 647.5 739.9 638.7 741.3 647.5 742.2 652.1 748.1 652.1 749.7 661.8 751 676 752.3 692.8 753.2 702.5 754.9 702.9 756.2 712.2 757.4 720 758.8 703.2 759.7 697.4 761 705.8 761.9 709.7 764 709.9 765.3 722.6 766.8 739.4 768.1 752.4 770.1 753 772 755.6 774.3 769.5 777 772.2 779.4 785.6 781.6 788.2 783.7 823 790.4 824.3 792.8 839 794.9 884.5 797.1 885.8 799.5 903.2 801.6 904.6 803.8 927.3 806.2 938 823 938.5 825.1 961.5 829.7 962.1 831.8 973.3 835.8 974.1 838.2 992 840.9 976.8 851.6 976.2 853.8 951.4 855.9 939.3 858.3 932.6 904.6 932.6 906.7 949.2 917.1 949.2 919.8 972.7 921.9 983.4 924.1 992.8 1102.4 992.8" fill="none" stroke="#ff5a28" stroke-width="1.25" stroke-opacity="0.76" stroke-linejoin="round" transform="translate(0.1,0.4)"/>
<path d="M304.2 992.8 306 992.8 308.2 985.6 310.1 984 312.7 972.7 314.6 971.4 316.7 956.7 318.9 955.4 321.6 948.7 324.8 947.3 327.4 935.3 330.1 934 332.8 929.2 349.4 928.6 352 916.6 362.2 916.1 365.4 902.4 371.6 902.4 374.2 909.9 376.1 911.2 378.8 921.9 380.4 923.3 383.1 936.6 384.9 939.3 387.1 946 391.1 946.8 394.3 959.9 395.9 959.9 397.8 946.8 415.7 946.8 418.4 958.8 429 958.8 431.2 972.7 441.9 973.3 444.6 968.2 461.1 968.2 463.3 978.1 465.1 987.5 471.8 987.5 474.5 978.1 476.4 960.7 483.1 959.4 485.7 940.7 487.9 921.9 490 920.6 492.7 901.9 507.1 901.1 509.8 906.7 529.3 906.7 531.5 892.5 533.9 865.8 536 844.4 538.7 833.7 540.8 849.7 544.6 850.3 547.2 832.9 549.4 832.4 551.5 836.4 554.2 831 556.1 812.3 557.9 816.3 560.1 793.6 562.7 753.5 565.4 726.7 567.3 717.6 575.6 717.1 577.5 700 578.9 667.4 581.6 649.2 586.1 648.1 588.8 623.3 590.9 621.4 593.1 587.2 594.9 549.7 597.1 543.6 598.9 557.8 601.6 584.5 604.3 607.2 606.4 606.7 608.8 595.2 610.7 589.1 612.8 604.6 615 589.9 617.1 611.2 619.3 629.4 621.1 632.6 623.5 648.7 625.7 656.7 627.8 678.1 630.2 709.9 630.9 716 633.6 727.5 639 727.5 641.1 716.6 643 734.8 645.6 766.9 648.3 783.7 652.3 784.5 654.5 801.1 656.3 786.9 658.5 793.6 661.2 817.7 663 844.4 665.7 844.4 667.8 827 669.7 807 671.8 782.9 674 766 675.9 774.9 678.3 762.3 680.9 778.9 683.1 772.2 685.8 753.5 685.6 745.9 686.8 713.5 688.1 685.1 689.4 670.8 690.7 677.3 691.8 683.5 693.7 683.5 695 670.8 696.9 646.2 698.9 625.5 700.6 613.9 702.7 573.8 704.6 532.4 706.7 543.1 708.6 533.7 711.2 531.8 713.4 507 715.5 505.6 717.9 493.6 720.6 505.6 722.5 523 724.6 541.7 726.8 557 729.4 539 731.3 538.5 733.4 555.1 735.3 540.4 737.5 573.8 739.9 607.2 742 609.9 744.1 621.9 746.5 624.6 748.7 628.6 750.8 629.4 751.6 642.4 752.3 668.2 753.2 687.6 754.1 707.1 755.2 721.3 756.5 726.5 757.4 729.7 758.4 723.9 759.7 712.2 761 726.5 762.3 742 764.2 769.5 766.9 788.2 769 828.4 770.9 849.7 772.7 851.1 774.9 860.4 777.5 861.8 779.4 871.1 781.6 858.3 783.7 869.8 792.3 870.3 794.9 889.9 798.4 890.4 801.1 905.9 807 906.4 809.1 895.2 814.4 895.2 816.9 911.2 819 919.3 821.1 919.3 823 901.1 825.1 918.7 832.9 919.3 835.8 931.3 840.9 931.3 842.5 918.7 844.4 932.6 846.5 948.1 873.8 948.1 875.9 959.4 877.8 959.4 880 949.2 886.4 949.2 888.5 967.9 906.4 968.2 909.1 982.1 943.3 982.1 946 992.8 965.3 992.8 967.9 978.9 1031.6 978.9 1033.7 992.8 1102.4 992.8" fill="none" stroke="#7565d8" stroke-width="1.25" stroke-opacity="0.76" stroke-linejoin="round" transform="translate(0.1,0.4)"/>
<path d="M304.2 992.8 457.1 992.8 459.8 984.8 474.5 984.2 477.2 978.1 489.2 977.6 492.4 960.7 520.5 960.2 522.6 951.4 524.8 958.8 540 958.8 542.7 966.1 548.6 966.1 551.3 950.8 555.5 950.8 558.2 967.9 568.1 967.9 570.8 958 572.9 950.8 581.5 950.3 584.1 935.3 585.7 935.3 588.2 943.9 590.3 930 592.2 916.6 606.3 916.1 608.2 902.4 610.3 900.6 612.8 871.1 614.9 855.9 616.8 870.3 618.9 860.4 621.6 853.8 625.6 853.2 628.3 833.7 630.9 818.5 634.9 818.5 637.6 831 639.5 836.4 648.3 836.9 650.5 851.1 654.2 851.9 656.3 854.6 659 844.4 661.7 843.1 663.6 824.9 671.8 824.3 674.3 838.5 676.7 839.9 679.3 849.7 681.2 869.8 683.1 873.8 687.1 888 689.8 849.7 691.6 836.4 693.8 848.4 696.4 869.8 717.8 869.8 718.2 869.8 720.1 849.7 722.2 836.4 724.6 857.8 726.7 859.1 728.9 877 739.6 877 742 865.8 744.1 878.6 746.3 878.6 748.7 857.8 750.8 836.4 752.9 810.4 755.1 836.4 757.5 862.6 759.4 862.6 762 838.5 764.2 837.7 766.3 817.7 768.7 794.4 777 794.1 779.4 776.2 781.6 774.9 782.7 745.9 783.9 736.6 786 742.3 790.1 742.7 791.7 734.9 793.4 723.9 794.9 700.6 795.9 664.4 796.9 646.9 805.4 646.6 806.9 654 807.9 659.4 810.2 659.2 811.5 642.4 812.4 636.9 814.5 638.7 816 654 817.3 672.1 818.6 686.6 821.2 686.1 825.3 684.2 827.4 690.9 828.6 679.9 829.6 672.1 831.3 682.5 832.4 698 833.7 715.5 840.6 715.5 842.3 700.6 844.2 683.8 845.8 664.4 847.1 655.9 848.6 670.8 850.3 687.6 852.2 707.1 853.8 721.9 855.5 708.4 857.4 677.3 858.7 661.8 860.2 657.9 862.3 716 864.7 716 866.9 700.7 870.9 700.2 873.5 648.6 876.2 648 878.1 670 880.2 670.5 882.4 637.9 884.8 581.7 886.9 560.3 888.8 541.1 891.5 541.6 893.6 560.3 895.5 578.2 897.6 556.9 904.3 556.3 906.4 538.9 908.6 557.7 911 601.8 913.1 617.8 915 631.2 917.1 631.2 919.5 607.1 921.7 595.6 923.8 627.2 926.2 666.5 930.2 666.8 932.4 682 934.5 666.8 936.9 666.8 939 701.5 941.2 690 943.6 688.7 945.7 694 947.3 721.4 949.5 753.5 951.9 776.2 954 792.3 960.7 792.8 963.4 813.6 965.5 796.3 967.9 769 970.1 769 972.2 786.9 980.8 786.9 982.9 755.6 985.3 782.9 987.5 807 989.6 819.8 992 802.9 998.2 802.9 1000.8 818.2 1004.8 819 1007 831.6 1009.4 832.4 1011.5 847.6 1013.7 848.4 1016.1 863.6 1018.2 864.5 1020.3 879.7 1031 880.5 1033.4 917.9 1035.6 910.4 1046.8 910.4 1049 942 1055.6 942.5 1057.8 959.9 1068.5 960.2 1070.9 976.2 1095.2 976.2 1097.6 984 1099.2 984.8 1101.9 992.8" fill="none" stroke="#14f0d0" stroke-width="1.25" stroke-opacity="0.76" stroke-linejoin="round" transform="translate(0.1,0.4)"/>
<path d="M304.2 992.8 325.3 992.8 327.4 974.6 340.8 974.1 343.5 949.5 347.5 947.3 391.1 947.3 393.8 965.5 406.3 965.5 408.5 988.8 411.7 992 413 992.8 461.1 992.8 463.8 988.8 467.8 964.7 471.8 952.7 529.3 952.7 532 970.1 534.7 980.8 536.5 983.4 538.7 992.8 605.5 992.8 608.2 986.1 610.9 978.1 612.8 964.7 671.8 964.7 674.5 972.7 676.4 973.6 679.1 992.8 752.1 992.8 754.8 978.1 757 966.1 768.2 965.5 770.3 948.7 772.7 925.4 777 924.6 779.4 909.9 781.6 908.6 783.7 891.2 786.1 889.9 788.2 870.3 807 869.8 809.6 860.4 817.7 859.9 820.3 871.1 823 887.2 833.7 887.2 836.4 911.2 838.5 927.3 841.7 927.3 844.4 943.3 846.5 944.7 848.9 959.4 851.1 962.1 853.2 982.9 864.5 982.9 867.1 973.3 873.3 973.3 875.7 982.9 930 982.9 932.6 992.8 1102.4 992.8" fill="none" stroke="#e5203c" stroke-width="1.25" stroke-opacity="0.76" stroke-linejoin="round" transform="translate(0.1,0.4)"/>
</svg>
<div class="t" style="left:279.08px;top:985.00px;font-size:13px;line-height:15px;color:#fff;transform:scaleX(0.9300);">0</div>
<div class="t" style="left:279.08px;top:906.00px;font-size:13px;line-height:15px;color:#fff;transform:scaleX(0.9300);">5</div>
<div class="t" style="left:272.35px;top:826.00px;font-size:13px;line-height:15px;color:#fff;transform:scaleX(0.9300);">10</div>
<div class="t" style="left:272.35px;top:747.00px;font-size:13px;line-height:15px;color:#fff;transform:scaleX(0.9300);">15</div>
<div class="t" style="left:272.35px;top:667.00px;font-size:13px;line-height:15px;color:#fff;transform:scaleX(0.9300);">20</div>
<div class="t" style="left:272.35px;top:588.00px;font-size:13px;line-height:15px;color:#fff;transform:scaleX(0.9300);">25</div>
<div class="t" style="left:272.35px;top:508.00px;font-size:13px;line-height:15px;color:#fff;transform:scaleX(0.9300);">30</div>
<div class="t" style="left:272.35px;top:429.00px;font-size:13px;line-height:15px;color:#fff;transform:scaleX(0.9300);">35</div>
<div class="t" style="left:272.35px;top:349.00px;font-size:13px;line-height:15px;color:#fff;transform:scaleX(0.9300);">40</div>
<div class="t" style="left:287.39px;top:1008.00px;font-size:12.3px;line-height:14px;color:#fff;transform:scaleX(0.9050);">Jan 01</div>
<div class="t" style="left:354.63px;top:1008.00px;font-size:12.3px;line-height:14px;color:#fff;transform:scaleX(0.9050);">Feb 01</div>
<div class="t" style="left:415.93px;top:1008.00px;font-size:12.3px;line-height:14px;color:#fff;transform:scaleX(0.9050);">Mar 01</div>
<div class="t" style="left:484.71px;top:1008.00px;font-size:12.3px;line-height:14px;color:#fff;transform:scaleX(0.9050);">Apr 01</div>
<div class="t" style="left:548.53px;top:1008.00px;font-size:12.3px;line-height:14px;color:#fff;transform:scaleX(0.9050);">May 01</div>
<div class="t" style="left:617.93px;top:1008.00px;font-size:12.3px;line-height:14px;color:#fff;transform:scaleX(0.9050);">Jun 01</div>
<div class="t" style="left:685.46px;top:1008.00px;font-size:12.3px;line-height:14px;color:#fff;transform:scaleX(0.9050);">Jul 01</div>
<div class="t" style="left:750.53px;top:1008.00px;font-size:12.3px;line-height:14px;color:#fff;transform:scaleX(0.9050);">Aug 01</div>
<div class="t" style="left:818.39px;top:1008.00px;font-size:12.3px;line-height:14px;color:#fff;transform:scaleX(0.9050);">Sep 01</div>
<div class="t" style="left:885.30px;top:1008.00px;font-size:12.3px;line-height:14px;color:#fff;transform:scaleX(0.9050);">Oct 01</div>
<div class="t" style="left:951.92px;top:1008.00px;font-size:12.3px;line-height:14px;color:#fff;transform:scaleX(0.9050);">Nov 01</div>
<div class="t" style="left:1017.59px;top:1008.00px;font-size:12.3px;line-height:14px;color:#fff;transform:scaleX(0.9050);">Dec 01</div>
<div class="t" style="left:1086.37px;top:1008.00px;font-size:12.3px;line-height:14px;color:#fff;transform:scaleX(0.9050);">Jan 01</div>
<div class="t" style="left:291.17px;top:1019.00px;font-size:12.3px;line-height:14px;color:#fff;transform:scaleX(0.9600);">2025</div>
<div class="t" style="left:808.21px;top:301.00px;font-size:12.3px;line-height:14px;color:#fff;transform:scaleX(0.9500);">Aug 30th</div>
<div class="t" style="left:444.80px;top:1047.00px;font-size:14px;line-height:16px;color:#fff;transform:scaleX(0.9779);font-style:italic;">Hint: You can lock the day watched by clicking the desired date in this graph.</div>
<svg class="ico" style="left:30px;top:1055px" width="140" height="90" viewBox="30 1055 140 90"><g fill="none" stroke="#e8d43a" stroke-width="1.1"><path d="M39 1133.500L69 1081.300L99.300 1133.500Z"/><path d="M69 1133.500L99.300 1066.700L129.600 1133.500Z"/><path d="M99.300 1133.500L129.600 1081.300L160 1133.500Z"/></g></svg>
<div id="winb"></div>
</div>
<div class="abs" style="left:9px;top:1157px;width:1721px;height:1px;background:rgba(59,92,200,0.3)"></div>
<div class="abs" style="left:8px;top:1158px;width:1722px;height:1px;background:#3b5cc8"></div>
</body>
</html>
